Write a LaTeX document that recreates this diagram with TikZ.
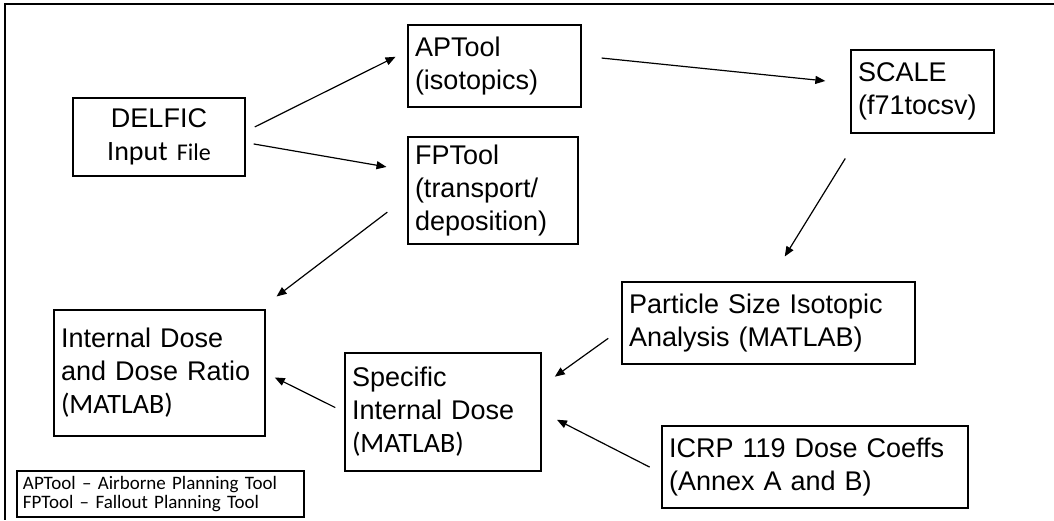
\documentclass[tikz,border=0pt]{standalone}
\usepackage{fontspec}
\setmainfont{Liberation Sans}
\newfontfamily\calibri{Carlito}
\usetikzlibrary{arrows.meta}

\begin{document}
\begin{tikzpicture}[
        line join=miter,
        toolbox/.style={draw=black, line width=1.6pt, align=left, inner xsep=7pt, inner ysep=0pt, font=\fontsize{27}{33}\selectfont},
        flowarrow/.style={-{Triangle[length=10pt, width=8pt]}, line width=1.2pt}
        ]
        \useasboundingbox (0pt, 0pt) rectangle (1054pt, -520pt);

        %% Frame
        \draw[line width=1.8pt] (1054pt, -4pt) -- (5pt, -4pt) -- (5pt, -520pt);

        %% Boxes
        \node[toolbox, align=center, text width=158pt, minimum height=78pt] (delfic) at (159pt, -137pt)
            {DELFIC\\{\calibri\fontsize{28}{33}\selectfont Input \fontsize{24}{33}\selectfont File}};
        \node[toolbox, text width=159pt, minimum height=82pt] (aptool) at (494.5pt, -66pt) {APTool\\(isotopics)};
        \node[toolbox, text width=156pt, minimum height=107pt] (fptool) at (493pt, -190.5pt) {FPTool\\(transport/\\deposition)};
        \node[toolbox, text width=129pt, minimum height=83pt] (scale) at (922.5pt, -91.5pt) {SCALE\\(f71tocsv)};
        \node[toolbox, text width=279pt, minimum height=82pt] (particle) at (768.5pt, -323pt) {Particle Size Isotopic\\Analysis (MATLAB)};
        \node[toolbox, text width=197pt, minimum height=126pt] (internal) at (159.5pt, -373pt)
            {Internal Dose\\and Dose Ratio\\{\calibri\fontsize{28}{33}\selectfont (MATLAB)}};
        \node[toolbox, text width=182pt, minimum height=118pt] (specific) at (443pt, -412pt)
            {Specific\\Internal Dose\\{\calibri\fontsize{28}{33}\selectfont (MATLAB)}};
        \node[toolbox, text width=292pt, minimum height=82pt] (icrp) at (815pt, -467pt) {ICRP 119 Dose Coeffs\\(Annex A and B)};

        %% Legend
        \node[toolbox, inner xsep=6pt, text width=275pt, minimum height=46pt, font=\calibri\fontsize{19}{19}\selectfont] (legend) at (160.5pt, -494pt)
            {APTool – Airborne Planning Tool\\FPTool – Fallout Planning Tool};

        %% Arrows
        \draw[flowarrow, shorten <=10pt, shorten >=13pt] ([yshift=5.6pt]delfic.east) -- ([yshift=15pt]aptool.west);
        \draw[flowarrow, shorten <=8pt, shorten >=21pt] ([yshift=-5.6pt]delfic.east) -- ([yshift=20pt]fptool.west);
        \draw[flowarrow, shorten <=20pt, shorten >=25pt] ([yshift=10pt]aptool.east) -- ([yshift=8pt]scale.west);
        \draw[flowarrow, shorten <=29pt, shorten >=29pt] ([xshift=-62pt]scale.south) -- ([xshift=1pt]particle.north);
        \draw[flowarrow, shorten <=25pt, shorten >=21pt] ([yshift=-6.5pt]fptool.west) -- ([xshift=-6pt]internal.north east);
        \draw[flowarrow, shorten <=10pt, shorten >=10pt] (specific.west) -- (internal.east);
        \draw[flowarrow, shorten <=16pt, shorten >=16pt] ([yshift=-6pt]particle.west) -- ([yshift=26pt]specific.east);
        \draw[flowarrow, shorten <=13pt, shorten >=17pt] ([yshift=-6pt]icrp.west) -- (specific.east);
\end{tikzpicture}
\end{document}
